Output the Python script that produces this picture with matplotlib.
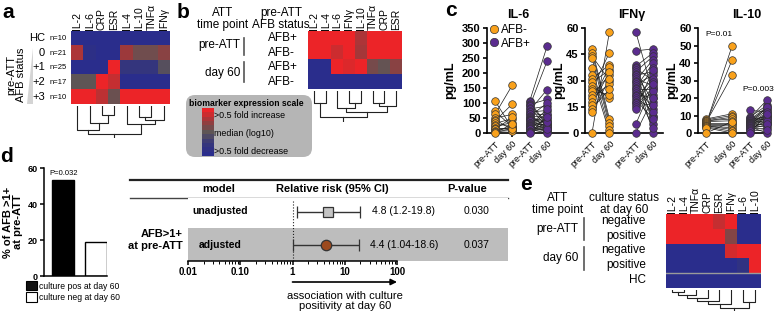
import numpy as np
import matplotlib.pyplot as plt
from matplotlib.colors import LinearSegmentedColormap
from matplotlib.patches import FancyBboxPatch, Polygon, Patch
from matplotlib.lines import Line2D
from matplotlib.ticker import NullFormatter
import matplotlib.transforms as mtransforms

plt.rcParams['font.family'] = ['Liberation Sans', 'DejaVu Sans']

# ---------------------------------------------------------------- data
# a: biomarker heatmap by pre-ATT AFB grade (-1 = low, 0 = median, 1 = high)
a_markers = ['IL-2', 'IL-6', 'CRP', 'ESR', 'IL-4', 'IL-10', 'TNFα', 'IFNγ']
a_groups = ['HC', '0', '+1', '+2', '+3']
a_counts = ['n=10', 'n=21', 'n=25', 'n=17', 'n=10']
a_matrix = [[-1, -1, -1, -1, -1, -1, -1, -1],
            [0.6, -0.85, -1, -1, 0.5, 0.15, 0.15, 0.35],
            [-1, -1, -1, 1, -0.6, -0.6, -0.6, -0.1],
            [0.0, 0.0, 1, 0.75, -1, -1, -1, -1],
            [1, 1, 0.7, 0.1, 1, 1, 1, 1]]
a_tree = [(2, 3, 9), (1, 8, 17), (0, 9, 24), (5, 6, 11), (11, 7, 14), (4, 12, 18), (10, 13, 28)]

# b: time point x AFB status
b_markers = ['IL-2', 'IL-4', 'IL-6', 'IFNγ', 'IL-10', 'TNFα', 'CRP', 'ESR']
b_rows = ['AFB+', 'AFB-', 'AFB+', 'AFB-']
b_matrix = [[1, 1, 1, 1, 0.6, 1, 1, 1],
            [1, 1, 0.8, 1, 0.55, 1, 1, 1],
            [-1, -1, 1, 0.9, 1, 0.2, 0.05, 0.35],
            [-1, -1, -1, -1, -1, -1, -1, -1]]
b_tree = [(0, 1, 12), (3, 4, 12), (2, 9, 18), (5, 6, 12), (11, 7, 15), (10, 12, 22), (8, 13, 27)]

# c: paired cytokine levels (pg/mL), pre-ATT -> day 60
il6_neg_pre = [107, 72, 62, 50, 45, 40, 32, 28, 22, 18, 15, 12, 8, 5, 2, 0]
il6_neg_d60 = [15, 20, 160, 62, 10, 97, 48, 25, 35, 18, 12, 52, 20, 8, 15, 30]
il6_pos_pre = [107, 102, 98, 95, 90, 85, 80, 75, 70, 65, 62, 58, 55, 50, 48, 45,
               42, 40, 35, 32, 30, 28, 25, 22, 20, 18, 15, 12, 8, 5, 2, 0]
il6_pos_d60 = [290, 30, 25, 112, 240, 20, 90, 145, 75, 60, 15, 50, 100, 40, 35, 30,
               22, 18, 12, 10, 28, 65, 80, 45, 8, 5, 25, 0, 20, 15, 38, 55]
ifng_neg_pre = [48, 46, 44, 43, 37, 33, 31, 29, 27, 25, 24, 22, 20, 18, 16, 14, 12, 0]
ifng_neg_d60 = [8, 6, 30, 4, 2, 0, 39, 36, 20, 46, 22, 33, 28, 38, 35, 25, 31, 58]
ifng_pos_pre = [58, 47, 39, 38, 37, 36, 35, 34, 33, 32, 31, 30, 29, 28, 27, 26, 25, 24,
                23, 22, 21, 20, 19, 18, 17, 16, 15, 14, 5, 0]
ifng_pos_d60 = [22, 48, 10, 46, 30, 5, 44, 18, 35, 0, 27, 42, 9, 33, 14, 40, 25, 3,
                37, 20, 12, 31, 8, 29, 16, 26, 24, 36, 28, 20]
il10_neg_pre = [5, 5.5, 6, 8, 7.5, 7, 7, 6.5, 6, 5, 4.5, 4, 4, 3.5, 3, 0]
il10_neg_d60 = [50, 42, 33, 11, 10, 9, 8, 7, 6, 5, 4, 3, 2, 1, 0, 6.5]
il10_pos_pre = [13, 9, 8.5, 8, 7.5, 7, 7, 6.5, 6, 6, 5.5, 5.5, 5, 5, 5, 4.5, 4.5, 4, 4,
                3.5, 3, 3, 2.5, 2, 1, 0]
il10_pos_d60 = [12, 16, 19, 9, 15, 8, 14, 10, 13, 7, 15, 6, 11, 12, 5, 10, 9, 4, 8, 0,
                6, 3, 7, 5, 2, 11]
c_ticklabels = ['pre-ATT', 'day 60', 'pre-ATT', 'day 60']

# d: % AFB >1+ by day-60 culture status, and relative risk table
d_bars = [53.5, 19]
d_bar_labels = ['culture pos at day 60', 'culture neg at day 60']
rr_models = ['unadjusted', 'adjusted']
rr_est = [4.8, 4.4]
rr_lo = [1.2, 1.04]
rr_hi = [19.8, 18.6]
rr_text = ['4.8 (1.2-19.8)', '4.4 (1.04-18.6)']
rr_p = ['0.030', '0.037']

# e: time point x day-60 culture status
e_markers = ['IL-2', 'IL-4', 'TNFα', 'CRP', 'ESR', 'IFNγ', 'IL-6', 'IL-10']
e_rows = ['negative', 'positive', 'negative', 'positive', 'HC']
e_matrix = [[1, 1, 1, 1, 0.75, 1, -1, -1],
            [1, 1, 1, 1, 1, 0.3, -1, -1],
            [-1, -1, -1, -1, -1, 0.85, 1, 1],
            [-1, -1, -1, -1, -1, -1, -0.75, 1],
            [-1, -1, -1, -1, -1, -1, -1, -1]]
e_tree = [(0, 1, 2), (8, 2, 5), (9, 3, 8), (10, 4, 11), (11, 5, 14), (6, 7, 12), (12, 13, 18)]

# ---------------------------------------------------------------- helpers
W, H = 778, 314
fig = plt.figure(figsize=(W / 100, H / 100), dpi=100)
cmap = LinearSegmentedColormap.from_list(
    'bm', [(0, '#2a2d8c'), (0.25, '#37377a'), (0.5, '#5e5656'), (0.75, '#9c3a3c'), (1, '#ec2428')])
orange, purple = '#f9a11b', '#5b2c8f'

# full-figure canvas in pixel units for boxes, rules and brackets
bg = fig.add_axes([0, 0, 1, 1], zorder=-1)
bg.set_xlim(0, W)
bg.set_ylim(H, 0)
bg.set_axis_off()


def box(x0, y0, x1, y1):
    return fig.add_axes([x0 / W, 1 - y1 / H, (x1 - x0) / W, (y1 - y0) / H])


def txt(x, y, s, **kw):
    kw.setdefault('ha', 'center')
    kw.setdefault('va', 'center')
    return fig.text(x / W, 1 - y / H, s, **kw)


def heatmap(x0, y0, x1, y1, mat, cols, fs=7.5):
    ax = box(x0, y0, x1, y1)
    ax.imshow(np.array(mat), cmap=cmap, vmin=-1, vmax=1, aspect='auto', interpolation='nearest')
    ax.set_axis_off()
    for i, c in enumerate(cols):
        ax.text(i, -0.6, c, rotation=90, ha='center', va='bottom', fontsize=fs)
    return ax


def dendro(x0, y0, x1, y1, n, merges, hmax):
    ax = box(x0, y0, x1, y1)
    pos = {i: (float(i), 0.0) for i in range(n)}
    for k, (a, b, h) in enumerate(merges):
        xa, ha = pos[a]
        xb, hb = pos[b]
        ax.plot([xa, xa, xb, xb], [ha, h, h, hb], color='#222', lw=0.8)
        pos[n + k] = ((xa + xb) / 2, h)
    xr, hr = pos[n + len(merges) - 1]
    ax.plot([xr, xr], [hr, hmax], color='#222', lw=0.8)
    ax.set_xlim(-0.5, n - 0.5)
    ax.set_ylim(hmax, 0)
    ax.set_axis_off()


def rows_y(top, bottom, n):
    h = (bottom - top) / n
    return [top + h * (i + 0.5) for i in range(n)]


# ---------------------------------------------------------------- panel a
txt(2, 12, 'a', ha='left', fontsize=15, fontweight='bold')
heatmap(71, 31, 170, 104, a_matrix, a_markers)
dendro(71, 106, 170, 138, len(a_markers), a_tree, 32)
for y, g, n in zip(rows_y(31, 104, 5), a_groups, a_counts):
    txt(45, y, g, ha='right', fontsize=8)
    txt(50, y + 0.5, n, ha='left', fontsize=5.5)
txt(16, 75, 'pre-ATT\nAFB status', rotation=90, fontsize=8, linespacing=1.0)
bg.add_patch(Polygon([(33, 48), (33, 104), (27, 104)], closed=True, fc='#d4d4d4', ec='none'))

# ---------------------------------------------------------------- panel b
txt(177, 12, 'b', ha='left', fontsize=15, fontweight='bold')
txt(223, 19, 'ATT\ntime point', fontsize=8.5, linespacing=1.0)
txt(281, 19, 'pre-ATT\nAFB status', fontsize=8.5, linespacing=1.0)
heatmap(308, 31, 402, 89, b_matrix, b_markers)
dendro(308, 91, 402, 122, len(b_markers), b_tree, 32)
for y, r in zip(rows_y(31, 89, 4), b_rows):
    txt(268, y, r, ha='left', fontsize=8.5)
txt(240, 45, 'pre-ATT', ha='right', fontsize=8.5)
txt(240, 73, 'day 60', ha='right', fontsize=8.5)
bg.plot([244, 244], [38, 55], color='#555', lw=1.2)
bg.plot([244, 244], [62, 82], color='#555', lw=1.2)

# scale legend
bg.add_patch(FancyBboxPatch((186, 95), 126, 62, boxstyle='round,pad=0,rounding_size=9',
                            fc='#b5b5b5', ec='none'))
txt(189, 103, 'biomarker expression scale', ha='left', fontsize=6.2, fontweight='bold')
cb = box(202, 108, 214, 156)
cb.imshow(np.linspace(1, -1, 11).reshape(-1, 1), cmap=cmap, vmin=-1, vmax=1,
          aspect='auto', interpolation='nearest')
cb.set_axis_off()
txt(214, 115, '>0.5 fold increase', ha='left', fontsize=6.4)
txt(214, 134, 'median (log10)', ha='left', fontsize=6.4)
txt(214, 152, '>0.5 fold decrease', ha='left', fontsize=6.4)

# ---------------------------------------------------------------- panel c
txt(445, 11, 'c', ha='left', fontsize=15, fontweight='bold')
c_data = [('IL-6', il6_neg_pre, il6_neg_d60, il6_pos_pre, il6_pos_d60, np.arange(0, 351, 50)),
          ('IFNγ', ifng_neg_pre, ifng_neg_d60, ifng_pos_pre, ifng_pos_d60, np.arange(0, 61, 15)),
          ('IL-10', il10_neg_pre, il10_neg_d60, il10_pos_pre, il10_pos_d60, np.arange(0, 61, 10))]
c_layout = [(487, 568, [0, 1, 2, 3], (-0.46, 4.2), 518, 456),
            (585, 663, [0, 1, 2.5, 3.5], (-0.4, 4.06), 632, 565),
            (698, 770, [0, 1.5, 2.5, 3.5], (-0.46, 3.66), 747, 678)]
c_axes = []
for (title, npre, nd60, ppre, pd60, yt), (l, r, xs, xl, tx, lx) in zip(c_data, c_layout):
    ax = box(l, 28, r, 133)
    for pre, d60, col, xx in [(npre, nd60, orange, xs[:2]), (ppre, pd60, purple, xs[2:])]:
        for a, b in zip(pre, d60):
            ax.plot(xx, [a, b], color='#1a1a1a', lw=0.5, zorder=2, clip_on=False)
        ax.scatter([xx[0]] * len(pre), pre, s=30, c=col, edgecolors='#333', linewidths=0.5,
                   zorder=3, clip_on=False)
        ax.scatter([xx[1]] * len(d60), d60, s=30, c=col, edgecolors='#333', linewidths=0.5,
                   zorder=3, clip_on=False)
    ax.set_xlim(*xl)
    ax.set_ylim(yt[0], yt[-1])
    ax.set_yticks(yt)
    ax.set_yticklabels([str(v) for v in yt], fontsize=8, fontweight='bold')
    ax.set_xticks(xs)
    ax.set_xticklabels(c_ticklabels, rotation=45, ha='right', va='top',
                       rotation_mode='anchor', fontsize=6.5)
    for sp in ['top', 'right']:
        ax.spines[sp].set_visible(False)
    for sp in ['left', 'bottom']:
        ax.spines[sp].set_linewidth(1.2)
    ax.tick_params(width=1.2, length=3, pad=1.5)
    ax.set_ylabel('pg/mL', fontsize=9, fontweight='bold')
    ax.yaxis.set_label_coords((lx - l) / (r - l), 0.5)
    txt(tx, 15, title, fontsize=9, fontweight='bold')
    c_axes.append(ax)

c_axes[0].legend(handles=[Line2D([], [], marker='o', ls='', ms=6, mfc=orange, mec='#333', mew=0.5),
                          Line2D([], [], marker='o', ls='', ms=6, mfc=purple, mec='#333', mew=0.5)],
                 labels=['AFB-', 'AFB+'], loc='upper left', bbox_to_anchor=(0.03, 1.04),
                 frameon=False, fontsize=8.5, handlelength=0.8, handletextpad=0.2,
                 labelspacing=0.15, borderpad=0, borderaxespad=0)
c_axes[2].text(0.75, 56, 'P=0.01', ha='center', va='center', fontsize=6)
c_axes[2].text(3.0, 25, 'P=0.003', ha='center', va='center', fontsize=6)

# ---------------------------------------------------------------- panel d
txt(0, 157, 'd', ha='left', fontsize=15, fontweight='bold')
axd = box(44, 168, 107, 276)
axd.bar([0, 1.45], d_bars, width=1, color=['black', 'white'], edgecolor='black', lw=1)
axd.set_xlim(-0.86, 1.95)
axd.set_ylim(0, 60)
axd.set_yticks([0, 20, 40, 60])
axd.set_yticklabels(['0', '20', '40', '60'], fontsize=6.5, fontweight='bold')
axd.set_xticks([])
for sp in ['top', 'right']:
    axd.spines[sp].set_visible(False)
for sp in ['left', 'bottom']:
    axd.spines[sp].set_linewidth(1.1)
axd.tick_params(width=1.1, length=3, pad=1.5)
axd.text(0, 56.8, 'P=0.032', ha='center', va='center', fontsize=5.5)
txt(13, 222, '% of AFB >1+\nat pre-ATT', rotation=90, fontsize=8, fontweight='bold', linespacing=1.0)
fig.legend(handles=[Patch(fc='#111', ec='black', lw=0.8), Patch(fc='white', ec='black', lw=0.8)],
           labels=d_bar_labels, loc='upper left', bbox_to_anchor=(26 / W, 1 - 281 / H),
           frameon=False, fontsize=6.2, handlelength=1.3, handleheight=1.3, handletextpad=0.25,
           labelspacing=0.2, borderpad=0, borderaxespad=0)

# forest plot table
bg.plot([130, 508], [180, 180], color='#222', lw=1.6)
bg.plot([130, 508], [198, 198], color='#444', lw=1.0)
txt(219, 189, 'model', fontsize=8, fontweight='bold')
txt(332, 189, 'Relative risk (95% CI)', fontsize=8, fontweight='bold')
txt(467, 189, 'P-value', fontsize=8, fontweight='bold')
axf = box(188, 198, 508, 261)
axf.set_xscale('log')
axf.set_xlim(0.01, 10 ** (-2 + 320 / 52.25))
axf.set_ylim(-0.5, 1.41)
axf.axhspan(-0.5, 0.5, color='#bdbdbd', zorder=0, lw=0)
axf.plot([1, 1], [-0.5, 1.36], ls=':', color='#222', lw=0.8)
rr_y = [1, 0]
for y, est, lo, hi, mk, fc in zip(rr_y, rr_est, rr_lo, rr_hi, ['s', 'o'], ['#c4c4c4', '#9c4a1e']):
    axf.errorbar([est], [y], xerr=[[est - lo], [hi - est]], fmt=mk, ms=7.5, mfc=fc, mec='#333',
                 mew=0.9, ecolor='#333', elinewidth=1, capsize=4, capthick=1, zorder=3)
for sp in ['top', 'right', 'left']:
    axf.spines[sp].set_visible(False)
axf.spines['bottom'].set_bounds(0.01, 100)
axf.spines['bottom'].set_linewidth(1.1)
axf.set_yticks([])
axf.set_xticks([0.01, 0.1, 1, 10, 100])
axf.set_xticklabels(['0.01', '0.10', '1', '10', '100'], fontsize=7, fontweight='bold')
axf.set_xticks([m * 10.0 ** e for e in range(-2, 2) for m in range(2, 10)], minor=True)
axf.xaxis.set_minor_formatter(NullFormatter())
axf.tick_params(which='major', width=1.1, length=3, pad=1)
axf.tick_params(which='minor', width=0.7, length=2)
for y, m, t, p in zip(rr_y, rr_models, rr_text, rr_p):
    yp = 261 - (y + 0.5) * 33
    txt(220, yp, m, fontsize=7.5, fontweight='bold')
    txt(404, yp, t, fontsize=7.5)
    txt(477, yp, p, fontsize=7.5)
txt(183, 240, 'AFB>1+\nat pre-ATT', ha='right', fontsize=8, fontweight='bold', linespacing=1.15)
trans = mtransforms.blended_transform_factory(axf.transData, fig.transFigure)
axf.annotate('', xy=(100, 1 - 282 / H), xytext=(1, 1 - 282 / H), xycoords=trans, textcoords=trans,
             arrowprops=dict(arrowstyle='-|>', color='black', lw=1.2, mutation_scale=9,
                             shrinkA=0, shrinkB=0), annotation_clip=False)
axf.text(10, 1 - 301 / H, 'association with culture\npositivity at day 60', transform=trans,
         ha='center', va='center', fontsize=8, linespacing=1.0)

# ---------------------------------------------------------------- panel e
txt(520, 185, 'e', ha='left', fontsize=15, fontweight='bold')
txt(558, 204, 'ATT\ntime point', fontsize=8.5, linespacing=1.0)
txt(624, 204, 'culture status\nat day 60', fontsize=8.5, linespacing=1.0)
axe = heatmap(666, 214, 761, 288, e_matrix, e_markers)
axe.axhline(3.5, color='#9a9a9a', lw=1)
dendro(666, 290, 761, 311, len(e_markers), e_tree, 21)
for y, r in zip(rows_y(214, 288, 5), e_rows):
    txt(646, y - 0.5, r, ha='right', fontsize=8.5)
txt(578, 229, 'pre-ATT', ha='right', fontsize=8.5)
txt(578, 258, 'day 60', ha='right', fontsize=8.5)
bg.plot([584, 584], [218, 240], color='#555', lw=1.2)
bg.plot([584, 584], [247, 270], color='#555', lw=1.2)

fig.savefig('out.png', dpi=100)
